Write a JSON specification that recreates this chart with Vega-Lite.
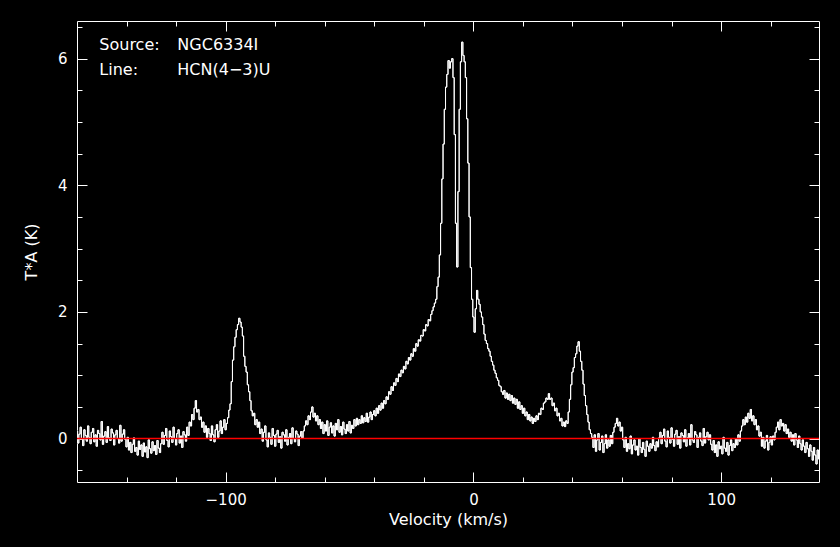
{
  "$schema": "https://vega.github.io/schema/vega-lite/v6.json",
  "width": 742,
  "height": 461,
  "autosize": {"type": "none"},
  "padding": {"left": 77, "top": 21, "right": 21, "bottom": 65},
  "background": "black",
  "config": {
    "view": {"stroke": null},
    "axis": {"grid": false, "domainColor": "white", "tickColor": "white", "tickWidth": 1, "labelColor": "white", "titleColor": "white", "labelFont": "DejaVu Sans", "titleFont": "DejaVu Sans", "titleFontWeight": "normal"}
  },
  "datasets": {
    "spectrum": [
      {"v":-160,"t":0.12},{"v":-159.5,"t":-0.07},{"v":-159,"t":0.07},{"v":-158.5,"t":0.18},{"v":-158,"t":-0.01},{"v":-157.5,"t":-0.11},{"v":-157,"t":0.14},{"v":-156.5,"t":0.05},{"v":-156,"t":-0.04},{"v":-155.5,"t":0.20},
      {"v":-155,"t":0.02},{"v":-154.5,"t":-0.08},{"v":-154,"t":0.10},{"v":-153.5,"t":0.16},{"v":-153,"t":-0.05},{"v":-152.5,"t":0.06},{"v":-152,"t":-0.12},{"v":-151.5,"t":0.13},{"v":-151,"t":0.08},{"v":-150.5,"t":-0.02},
      {"v":-150,"t":0.27},{"v":-149.5,"t":-0.09},{"v":-149,"t":0.04},{"v":-148.5,"t":0.11},{"v":-148,"t":-0.06},{"v":-147.5,"t":0.19},{"v":-147,"t":0.01},{"v":-146.5,"t":-0.03},{"v":-146,"t":0.15},{"v":-145.5,"t":0.09},
      {"v":-145,"t":-0.10},{"v":-144.5,"t":0.06},{"v":-144,"t":0.13},{"v":-143.5,"t":0.00},{"v":-143,"t":-0.07},{"v":-142.5,"t":0.21},{"v":-142,"t":-0.04},{"v":-141.5,"t":0.07},{"v":-141,"t":0.14},
      {"v":-140.5,"t":-0.01},{"v":-140,"t":-0.13},{"v":-139.5,"t":0.02},{"v":-139,"t":-0.18},{"v":-138.5,"t":-0.06},{"v":-138,"t":-0.22},{"v":-137.5,"t":-0.09},{"v":-137,"t":0.01},{"v":-136.5,"t":-0.20},{"v":-136,"t":-0.14},
      {"v":-135.5,"t":-0.26},{"v":-135,"t":-0.04},{"v":-134.5,"t":-0.17},{"v":-134,"t":-0.10},{"v":-133.5,"t":-0.28},{"v":-133,"t":-0.07},{"v":-132.5,"t":-0.21},{"v":-132,"t":-0.13},{"v":-131.5,"t":-0.30},{"v":-131,"t":-0.02},
      {"v":-130.5,"t":-0.16},{"v":-130,"t":-0.23},{"v":-129.5,"t":-0.05},{"v":-129,"t":-0.19},{"v":-128.5,"t":-0.11},{"v":-128,"t":-0.25},{"v":-127.5,"t":-0.03},{"v":-127,"t":-0.15},{"v":-126.5,"t":-0.22},{"v":-126,"t":-0.08},
      {"v":-125.5,"t":0.10},{"v":-125,"t":-0.09},{"v":-124.5,"t":0.05},{"v":-124,"t":0.16},{"v":-123.5,"t":-0.03},{"v":-123,"t":-0.13},{"v":-122.5,"t":0.12},{"v":-122,"t":0.03},{"v":-121.5,"t":-0.06},{"v":-121,"t":0.18},
      {"v":-120.5,"t":0.00},{"v":-120,"t":-0.10},{"v":-119.5,"t":0.08},{"v":-119,"t":0.14},{"v":-118.5,"t":-0.07},{"v":-118,"t":0.04},{"v":-117.5,"t":-0.14},{"v":-117,"t":0.11},{"v":-116.5,"t":0.06},{"v":-116,"t":-0.04},
      {"v":-115.5,"t":0.18},{"v":-115,"t":0.05},{"v":-114.5,"t":0.26},{"v":-114,"t":0.20},{"v":-113.5,"t":0.38},{"v":-113,"t":0.30},{"v":-112.5,"t":0.48},{"v":-112,"t":0.60},{"v":-111.5,"t":0.42},{"v":-111,"t":0.46},
      {"v":-110.5,"t":0.30},{"v":-110,"t":0.34},{"v":-109.5,"t":0.18},{"v":-109,"t":0.26},{"v":-108.5,"t":0.10},{"v":-108,"t":0.20},
      {"v":-107.5,"t":0.02},{"v":-107,"t":0.16},{"v":-106.5,"t":0.08},{"v":-106,"t":-0.03},{"v":-105.5,"t":0.20},{"v":-105,"t":0.06},{"v":-104.5,"t":-0.05},{"v":-104,"t":0.14},{"v":-103.5,"t":0.22},{"v":-103,"t":0.02},
      {"v":-102.5,"t":0.12},{"v":-102,"t":0.28},{"v":-101.5,"t":0.08},{"v":-101,"t":0.18},{"v":-100.5,"t":0.30},{"v":-100,"t":0.14},{"v":-99.5,"t":0.24},{"v":-99,"t":0.33},
      {"v":-98.5,"t":0.45},{"v":-98,"t":0.55},{"v":-97.5,"t":0.90},{"v":-97,"t":1.24},{"v":-96.5,"t":1.45},{"v":-96,"t":1.60},{"v":-95.5,"t":1.72},{"v":-95,"t":1.80},{"v":-94.5,"t":1.90},{"v":-94,"t":1.84},
      {"v":-93.5,"t":1.76},{"v":-93,"t":1.62},{"v":-92.5,"t":1.30},{"v":-92,"t":1.14},{"v":-91.5,"t":1.05},{"v":-91,"t":0.85},{"v":-90.5,"t":0.74},{"v":-90,"t":0.60},{"v":-89.5,"t":0.44},{"v":-89,"t":0.36},
      {"v":-88.5,"t":0.40},{"v":-88,"t":0.22},{"v":-87.5,"t":0.30},{"v":-87,"t":0.18},{"v":-86.5,"t":0.26},{"v":-86,"t":0.08},
      {"v":-85.5,"t":0.15},{"v":-85,"t":-0.04},{"v":-84.5,"t":0.10},{"v":-84,"t":0.20},{"v":-83.5,"t":-0.02},{"v":-83,"t":-0.13},{"v":-82.5,"t":0.09},{"v":-82,"t":0.02},{"v":-81.5,"t":-0.09},{"v":-81,"t":0.16},
      {"v":-80.5,"t":0.05},{"v":-80,"t":-0.12},{"v":-79.5,"t":0.07},{"v":-79,"t":0.13},{"v":-78.5,"t":-0.06},{"v":-78,"t":0.03},{"v":-77.5,"t":-0.15},{"v":-77,"t":0.10},{"v":-76.5,"t":0.06},{"v":-76,"t":-0.04},
      {"v":-75.5,"t":0.14},{"v":-75,"t":-0.10},{"v":-74.5,"t":0.02},{"v":-74,"t":0.08},{"v":-73.5,"t":-0.08},{"v":-73,"t":0.17},{"v":-72.5,"t":0.00},{"v":-72,"t":-0.05},{"v":-71.5,"t":0.12},{"v":-71,"t":0.07},
      {"v":-70.5,"t":-0.11},{"v":-70,"t":0.04},{"v":-69.5,"t":0.11},{"v":-69,"t":0.01},
      {"v":-68.5,"t":0.12},{"v":-68,"t":0.20},{"v":-67.5,"t":0.28},{"v":-67,"t":0.22},{"v":-66.5,"t":0.36},{"v":-66,"t":0.30},{"v":-65.5,"t":0.42},{"v":-65,"t":0.50},{"v":-64.5,"t":0.34},{"v":-64,"t":0.40},
      {"v":-63.5,"t":0.28},{"v":-63,"t":0.36},{"v":-62.5,"t":0.22},{"v":-62,"t":0.30},{"v":-61.5,"t":0.16},{"v":-61,"t":0.26},
      {"v":-60.5,"t":0.08},{"v":-60,"t":0.22},{"v":-59.5,"t":0.12},{"v":-59,"t":0.28},{"v":-58.5,"t":0.05},{"v":-58,"t":0.18},{"v":-57.5,"t":0.25},{"v":-57,"t":0.09},{"v":-56.5,"t":0.20},{"v":-56,"t":0.04},
      {"v":-55.5,"t":0.24},{"v":-55,"t":0.14},{"v":-54.5,"t":0.30},{"v":-54,"t":0.10},{"v":-53.5,"t":0.19},{"v":-53,"t":0.06},{"v":-52.5,"t":0.26},{"v":-52,"t":0.15},{"v":-51.5,"t":0.08},{"v":-51,"t":0.22},
      {"v":-50.5,"t":0.12},{"v":-50,"t":0.27},{"v":-49.5,"t":0.09},{"v":-49,"t":0.21},{"v":-48.5,"t":0.16},{"v":-48,"t":0.30},
      {"v":-47.5,"t":0.20},{"v":-47,"t":0.32},{"v":-46.5,"t":0.22},{"v":-46,"t":0.30},{"v":-45.5,"t":0.24},{"v":-45,"t":0.36},{"v":-44.5,"t":0.25},{"v":-44,"t":0.33},{"v":-43.5,"t":0.27},{"v":-43,"t":0.40},
      {"v":-42.5,"t":0.26},{"v":-42,"t":0.34},{"v":-41.5,"t":0.42},{"v":-41,"t":0.30},{"v":-40.5,"t":0.38},{"v":-40,"t":0.44},{"v":-39.5,"t":0.36},{"v":-39,"t":0.48},{"v":-38.5,"t":0.40},{"v":-38,"t":0.52},
      {"v":-37.5,"t":0.45},{"v":-37,"t":0.56},{"v":-36.5,"t":0.48},{"v":-36,"t":0.60},{"v":-35.5,"t":0.55},{"v":-35,"t":0.66},{"v":-34.5,"t":0.62},{"v":-34,"t":0.74},{"v":-33.5,"t":0.70},{"v":-33,"t":0.82},
      {"v":-32.5,"t":0.76},{"v":-32,"t":0.88},{"v":-31.5,"t":0.84},{"v":-31,"t":0.95},{"v":-30.5,"t":0.90},{"v":-30,"t":1.02},{"v":-29.5,"t":0.98},{"v":-29,"t":1.08},{"v":-28.5,"t":1.04},{"v":-28,"t":1.14},
      {"v":-27.5,"t":1.10},{"v":-27,"t":1.22},{"v":-26.5,"t":1.18},{"v":-26,"t":1.28},{"v":-25.5,"t":1.24},{"v":-25,"t":1.34},{"v":-24.5,"t":1.30},{"v":-24,"t":1.42},{"v":-23.5,"t":1.38},{"v":-23,"t":1.50},
      {"v":-22.5,"t":1.46},{"v":-22,"t":1.56},{"v":-21.5,"t":1.54},{"v":-21,"t":1.63},{"v":-20.5,"t":1.62},{"v":-20,"t":1.72},{"v":-19.5,"t":1.70},{"v":-19,"t":1.80},{"v":-18.5,"t":1.78},{"v":-18,"t":1.88},
      {"v":-17.5,"t":1.86},{"v":-17,"t":1.96},{"v":-16.5,"t":2.02},{"v":-16,"t":2.08},{"v":-15.5,"t":2.14},{"v":-15,"t":2.20},
      {"v":-14.5,"t":2.40},{"v":-14,"t":2.55},{"v":-13.5,"t":2.90},{"v":-13,"t":3.40},{"v":-12.5,"t":4.10},{"v":-12,"t":4.65},{"v":-11.5,"t":5.20},{"v":-11,"t":5.55},{"v":-10.5,"t":5.75},{"v":-10,"t":5.97},
      {"v":-9.5,"t":5.85},{"v":-9,"t":5.95},{"v":-8.5,"t":6.00},{"v":-8,"t":5.70},{"v":-7.5,"t":4.80},{"v":-7,"t":3.40},{"v":-6.5,"t":2.71},{"v":-6,"t":3.90},{"v":-5.5,"t":5.20},{"v":-5,"t":5.95},
      {"v":-4.5,"t":6.26},{"v":-4,"t":6.05},{"v":-3.5,"t":5.95},{"v":-3,"t":5.70},{"v":-2.5,"t":5.05},{"v":-2,"t":4.35},{"v":-1.5,"t":3.50},{"v":-1,"t":2.70},{"v":-0.5,"t":2.20},{"v":0,"t":1.92},
      {"v":0.5,"t":1.68},{"v":1,"t":2.05},{"v":1.5,"t":2.34},{"v":2,"t":2.20},{"v":2.5,"t":2.12},{"v":3,"t":2.00},{"v":3.5,"t":1.92},{"v":4,"t":1.80},{"v":4.5,"t":1.65},{"v":5,"t":1.55},
      {"v":5.5,"t":1.50},{"v":6,"t":1.42},
      {"v":6.5,"t":1.38},{"v":7,"t":1.30},{"v":7.5,"t":1.22},{"v":8,"t":1.16},{"v":8.5,"t":1.08},{"v":9,"t":1.03},{"v":9.5,"t":0.96},{"v":10,"t":0.92},{"v":10.5,"t":0.84},{"v":11,"t":0.82},
      {"v":11.5,"t":0.74},{"v":12,"t":0.70},{"v":12.5,"t":0.76},{"v":13,"t":0.64},{"v":13.5,"t":0.72},{"v":14,"t":0.62},{"v":14.5,"t":0.70},{"v":15,"t":0.60},{"v":15.5,"t":0.68},{"v":16,"t":0.56},
      {"v":16.5,"t":0.64},{"v":17,"t":0.54},{"v":17.5,"t":0.62},{"v":18,"t":0.48},{"v":18.5,"t":0.58},{"v":19,"t":0.46},{"v":19.5,"t":0.52},{"v":20,"t":0.40},{"v":20.5,"t":0.48},{"v":21,"t":0.36},
      {"v":21.5,"t":0.42},{"v":22,"t":0.30},{"v":22.5,"t":0.38},{"v":23,"t":0.28},{"v":23.5,"t":0.34},{"v":24,"t":0.24},{"v":24.5,"t":0.32},{"v":25,"t":0.27},{"v":25.5,"t":0.36},{"v":26,"t":0.30},
      {"v":26.5,"t":0.40},{"v":27,"t":0.38},{"v":27.5,"t":0.48},{"v":28,"t":0.46},{"v":28.5,"t":0.56},{"v":29,"t":0.58},{"v":29.5,"t":0.64},{"v":30,"t":0.62},{"v":30.5,"t":0.71},{"v":31,"t":0.62},
      {"v":31.5,"t":0.64},{"v":32,"t":0.52},{"v":32.5,"t":0.56},{"v":33,"t":0.44},{"v":33.5,"t":0.48},{"v":34,"t":0.36},{"v":34.5,"t":0.40},{"v":35,"t":0.28},{"v":35.5,"t":0.32},{"v":36,"t":0.20},
      {"v":36.5,"t":0.26},{"v":37,"t":0.19},{"v":37.5,"t":0.28},{"v":38,"t":0.24},{"v":38.5,"t":0.42},
      {"v":39,"t":0.62},{"v":39.5,"t":0.85},{"v":40,"t":1.05},{"v":40.5,"t":1.12},{"v":41,"t":1.28},{"v":41.5,"t":1.34},{"v":42,"t":1.46},{"v":42.5,"t":1.53},{"v":43,"t":1.38},{"v":43.5,"t":1.22},
      {"v":44,"t":1.08},{"v":44.5,"t":0.86},{"v":45,"t":0.68},{"v":45.5,"t":0.52},{"v":46,"t":0.38},{"v":46.5,"t":0.26},{"v":47,"t":0.14},{"v":47.5,"t":0.08},{"v":48,"t":0.02},
      {"v":48.5,"t":-0.14},{"v":49,"t":0.06},{"v":49.5,"t":-0.20},{"v":50,"t":-0.02},{"v":50.5,"t":0.08},{"v":51,"t":-0.18},{"v":51.5,"t":-0.06},{"v":52,"t":0.04},{"v":52.5,"t":-0.22},{"v":53,"t":-0.08},
      {"v":53.5,"t":0.06},{"v":54,"t":-0.15},{"v":54.5,"t":-0.02},{"v":55,"t":-0.12},{"v":55.5,"t":0.05},{"v":56,"t":-0.08},
      {"v":56.5,"t":0.10},{"v":57,"t":0.18},{"v":57.5,"t":0.24},{"v":58,"t":0.32},{"v":58.5,"t":0.20},{"v":59,"t":0.26},{"v":59.5,"t":0.12},{"v":60,"t":0.18},
      {"v":60.5,"t":-0.02},{"v":61,"t":-0.14},{"v":61.5,"t":0.02},{"v":62,"t":-0.20},{"v":62.5,"t":-0.08},{"v":63,"t":-0.16},{"v":63.5,"t":0.04},{"v":64,"t":-0.24},{"v":64.5,"t":-0.10},{"v":65,"t":-0.02},
      {"v":65.5,"t":-0.18},{"v":66,"t":-0.12},{"v":66.5,"t":-0.26},{"v":67,"t":0.00},{"v":67.5,"t":-0.14},{"v":68,"t":-0.22},{"v":68.5,"t":-0.06},{"v":69,"t":-0.17},{"v":69.5,"t":-0.28},{"v":70,"t":-0.04},
      {"v":70.5,"t":-0.12},{"v":71,"t":-0.20},{"v":71.5,"t":-0.08},{"v":72,"t":-0.15},{"v":72.5,"t":0.02},{"v":73,"t":-0.11},{"v":73.5,"t":-0.19},{"v":74,"t":-0.05},{"v":74.5,"t":-0.13},{"v":75,"t":0.01},
      {"v":75.5,"t":0.10},{"v":76,"t":-0.08},{"v":76.5,"t":0.05},{"v":77,"t":0.15},{"v":77.5,"t":-0.04},{"v":78,"t":-0.13},{"v":78.5,"t":0.12},{"v":79,"t":0.02},{"v":79.5,"t":-0.07},{"v":80,"t":0.17},
      {"v":80.5,"t":-0.01},{"v":81,"t":-0.12},{"v":81.5,"t":0.07},{"v":82,"t":0.13},{"v":82.5,"t":-0.09},{"v":83,"t":0.03},{"v":83.5,"t":-0.15},{"v":84,"t":0.09},{"v":84.5,"t":0.05},{"v":85,"t":-0.05},
      {"v":85.5,"t":0.14},{"v":86,"t":-0.12},{"v":86.5,"t":0.01},{"v":87,"t":0.08},{"v":87.5,"t":-0.10},{"v":88,"t":0.22},{"v":88.5,"t":-0.02},{"v":89,"t":-0.06},{"v":89.5,"t":0.11},{"v":90,"t":0.06},
      {"v":90.5,"t":-0.14},{"v":91,"t":0.02},{"v":91.5,"t":0.09},{"v":92,"t":-0.04},{"v":92.5,"t":-0.11},{"v":93,"t":0.16},{"v":93.5,"t":-0.07},{"v":94,"t":0.03},{"v":94.5,"t":0.10},{"v":95,"t":-0.02},
      {"v":95.5,"t":0.06},{"v":96,"t":-0.09},
      {"v":96.5,"t":-0.18},{"v":97,"t":-0.03},{"v":97.5,"t":-0.22},{"v":98,"t":-0.10},{"v":98.5,"t":-0.28},{"v":99,"t":-0.05},{"v":99.5,"t":-0.16},{"v":100,"t":-0.12},{"v":100.5,"t":-0.24},{"v":101,"t":0.02},
      {"v":101.5,"t":-0.15},{"v":102,"t":-0.20},{"v":102.5,"t":-0.06},{"v":103,"t":-0.26},{"v":103.5,"t":-0.11},{"v":104,"t":-0.02},{"v":104.5,"t":-0.19},{"v":105,"t":-0.08},{"v":105.5,"t":-0.14},{"v":106,"t":0.00},
      {"v":106.5,"t":-0.10},{"v":107,"t":0.06},{"v":107.5,"t":-0.04},
      {"v":108,"t":0.12},{"v":108.5,"t":0.20},{"v":109,"t":0.30},{"v":109.5,"t":0.22},{"v":110,"t":0.34},{"v":110.5,"t":0.26},{"v":111,"t":0.40},{"v":111.5,"t":0.32},{"v":112,"t":0.46},{"v":112.5,"t":0.28},
      {"v":113,"t":0.36},{"v":113.5,"t":0.22},{"v":114,"t":0.30},{"v":114.5,"t":0.14},{"v":115,"t":0.20},{"v":115.5,"t":0.04},{"v":116,"t":0.10},
      {"v":116.5,"t":-0.12},{"v":117,"t":0.02},{"v":117.5,"t":-0.15},{"v":118,"t":-0.04},{"v":118.5,"t":0.05},{"v":119,"t":-0.18},{"v":119.5,"t":-0.06},{"v":120,"t":0.03},{"v":120.5,"t":-0.10},{"v":121,"t":0.04},
      {"v":121.5,"t":-0.02},
      {"v":122,"t":0.10},{"v":122.5,"t":0.18},{"v":123,"t":0.26},{"v":123.5,"t":0.14},{"v":124,"t":0.30},{"v":124.5,"t":0.20},{"v":125,"t":0.24},{"v":125.5,"t":0.12},{"v":126,"t":0.22},{"v":126.5,"t":0.08},
      {"v":127,"t":0.15},{"v":127.5,"t":0.02},
      {"v":128,"t":0.10},{"v":128.5,"t":-0.04},{"v":129,"t":0.06},{"v":129.5,"t":-0.10},{"v":130,"t":0.08},{"v":130.5,"t":-0.02},{"v":131,"t":-0.14},{"v":131.5,"t":0.04},{"v":132,"t":-0.08},{"v":132.5,"t":-0.18},
      {"v":133,"t":-0.02},{"v":133.5,"t":-0.12},{"v":134,"t":-0.22},{"v":134.5,"t":-0.06},{"v":135,"t":-0.16},{"v":135.5,"t":-0.28},{"v":136,"t":-0.10},{"v":136.5,"t":-0.20},{"v":137,"t":-0.34},{"v":137.5,"t":-0.14},
      {"v":138,"t":-0.26},{"v":138.5,"t":-0.40},{"v":139,"t":-0.18},{"v":139.5,"t":-0.32}
    ]
  },
  "data": {"name": "spectrum"},
  "resolve": {"scale": {"x": "shared", "y": "shared"}, "axis": {"x": "independent", "y": "independent"}},
  "layer": [
    {
      "mark": {"type": "line", "color": "black", "strokeWidth": 1, "interpolate": "step"},
      "encoding": {
        "x": {"field": "v", "type": "quantitative", "scale": {"domain": [-160, 139.5], "nice": false, "zero": false},
          "axis": {"orient": "top", "values": [-100, 0, 100], "tickSize": -10, "labels": false, "domain": true, "title": null}},
        "y": {"field": "t", "type": "quantitative", "scale": {"domain": [-0.685, 6.594], "nice": false, "zero": false},
          "axis": {"orient": "right", "values": [0, 2, 4, 6], "tickSize": -10, "labels": false, "domain": true, "title": null}}
      }
    },
    {
      "mark": {"type": "line", "color": "black", "strokeWidth": 1, "interpolate": "step"},
      "encoding": {
        "x": {"field": "v", "type": "quantitative",
          "axis": {"orient": "top", "values": [-140, -120, -80, -60, -40, -20, 20, 40, 60, 80, 120], "tickSize": -5, "labels": false, "domain": false, "title": null}},
        "y": {"field": "t", "type": "quantitative",
          "axis": {"orient": "right", "values": [-0.5, 0.5, 1, 1.5, 2.5, 3, 3.5, 4.5, 5, 5.5, 6.5], "tickSize": -5, "labels": false, "domain": false, "title": null}}
      }
    },
    {
      "mark": {"type": "line", "color": "white", "strokeWidth": 1, "interpolate": "step"},
      "encoding": {
        "x": {"field": "v", "type": "quantitative",
          "axis": {"orient": "bottom", "values": [-140, -120, -80, -60, -40, -20, 20, 40, 60, 80, 120], "tickSize": -5, "labels": false, "domain": false, "title": null}},
        "y": {"field": "t", "type": "quantitative",
          "axis": {"orient": "left", "values": [-0.5, 0.5, 1, 1.5, 2.5, 3, 3.5, 4.5, 5, 5.5, 6.5], "tickSize": -5, "labels": false, "domain": false, "title": null}}
      }
    },
    {
      "mark": {"type": "line", "color": "white", "strokeWidth": 1, "interpolate": "step"},
      "encoding": {
        "x": {"field": "v", "type": "quantitative",
          "axis": {"orient": "bottom", "values": [-100, 0, 100], "tickSize": -10, "domain": true, "labelFontSize": 15, "labelPadding": 20, "title": "Velocity (km/s)", "titleFontSize": 16, "titlePadding": 4}},
        "y": {"field": "t", "type": "quantitative",
          "axis": {"orient": "left", "values": [0, 2, 4, 6], "tickSize": -10, "domain": true, "labelFontSize": 15, "labelPadding": 20, "title": "T*A (K)", "titleFontSize": 16, "titlePadding": 18}}
      }
    },
    {
      "data": {"values": [{"level": 0}]},
      "mark": {"type": "rule", "color": "#ff0000", "strokeWidth": 1.5},
      "encoding": {
        "y": {"field": "level", "type": "quantitative", "axis": null}
      }
    },
    {
      "data": {"values": [{"k": 1}]},
      "mark": {"type": "text", "color": "white", "font": "DejaVu Sans", "fontSize": 16, "align": "left", "baseline": "alphabetic", "lineHeight": 25, "text": ["Source:", "Line:"]},
      "encoding": {
        "x": {"datum": -151, "type": "quantitative", "axis": null},
        "y": {"datum": 6.13, "type": "quantitative", "axis": null}
      }
    },
    {
      "data": {"values": [{"k": 1}]},
      "mark": {"type": "text", "color": "white", "font": "DejaVu Sans", "fontSize": 16, "align": "left", "baseline": "alphabetic", "lineHeight": 25, "text": ["NGC6334I", "HCN(4−3)U"]},
      "encoding": {
        "x": {"datum": -119.5, "type": "quantitative", "axis": null},
        "y": {"datum": 6.13, "type": "quantitative", "axis": null}
      }
    }
  ]
}
